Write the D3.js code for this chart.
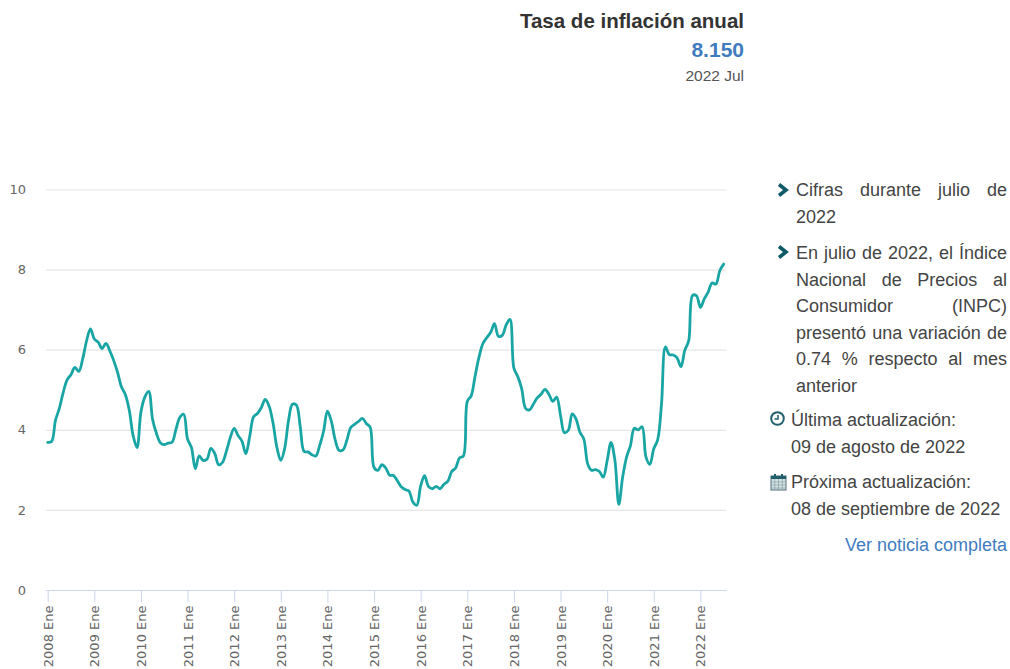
<!DOCTYPE html>
<html>
<head>
<meta charset="utf-8">
<script src="https://cdnjs.cloudflare.com/ajax/libs/d3/7.8.5/d3.min.js"></script>
<style>
  html, body { margin: 0; padding: 0; background: #fff; overflow: hidden; }
  #chart { position: absolute; left: 0; top: 0; width: 1010px; height: 669px; }
  .side { position: absolute; font-family: "Liberation Sans", Arial, sans-serif; font-size: 18px; color: #444; line-height: 26.5px; }
  .just { left: 796px; width: 211px; text-align: justify; }
  .head { right: 266px; text-align: right; font-family: "Liberation Sans", Arial, sans-serif; white-space: nowrap; position: absolute; }
  .axis text { font-family: "DejaVu Sans", sans-serif; font-size: 13px; fill: #666; }
</style>
</head>
<body>
<svg id="chart" width="1010" height="669"></svg>

<div class="head" style="top:9px;font-size:20.5px;font-weight:bold;color:#333;line-height:24px;">Tasa de inflación anual</div>
<div class="head" style="top:38px;font-size:21px;font-weight:bold;color:#3f7cbf;line-height:24px;">8.150</div>
<div class="head" style="top:67px;font-size:15.5px;color:#555;line-height:18px;">2022 Jul</div>

<div class="side just" style="top:177px;">Cifras durante julio de 2022</div>
<div class="side just" style="top:240px;">En julio de 2022, el Índice Nacional de Precios al Consumidor (INPC) presentó una variación de 0.74 % respecto al mes anterior</div>
<div class="side" style="left:791px;top:407px;">Última actualización:<br>09 de agosto de 2022</div>
<div class="side" style="left:791px;top:469px;">Próxima actualización:<br>08 de septiembre de 2022</div>
<div class="side" style="right:3px;top:532px;color:#3f7cbf;">Ver noticia completa</div>

<script>
var years = [2008,2009,2010,2011,2012,2013,2014,2015,2016,2017,2018,2019,2020,2021,2022]
var monthNames = ['Ene','Feb','Mar','Abr','May','Jun','Jul','Ago','Sep','Oct','Nov','Dic']
var yTicks = [0,2,4,6,8,10]

var inflation = [
  3.70,3.72,4.25,4.55,4.95,5.26,5.39,5.57,5.47,5.78,6.23,6.53,
  6.28,6.20,6.04,6.17,5.98,5.74,5.44,5.08,4.89,4.50,3.86,3.57,
  4.46,4.83,4.97,4.27,3.92,3.69,3.64,3.68,3.70,4.02,4.32,4.40,
  3.78,3.57,3.04,3.36,3.25,3.28,3.55,3.42,3.14,3.20,3.48,3.82,
  4.05,3.87,3.73,3.41,3.85,4.34,4.42,4.57,4.77,4.60,4.18,3.57,
  3.25,3.55,4.25,4.65,4.63,4.09,3.47,3.46,3.39,3.36,3.62,3.97,
  4.48,4.23,3.76,3.50,3.51,3.75,4.07,4.15,4.22,4.30,4.17,4.08,
  3.07,3.00,3.14,3.06,2.88,2.87,2.74,2.59,2.52,2.48,2.21,2.13,
  2.61,2.87,2.60,2.54,2.60,2.54,2.65,2.73,2.97,3.06,3.31,3.36,
  4.72,4.86,5.35,5.82,6.16,6.31,6.44,6.66,6.35,6.37,6.63,6.77,
  5.55,5.34,5.04,4.55,4.51,4.65,4.81,4.90,5.02,4.90,4.72,4.83,
  4.37,3.94,4.00,4.41,4.28,3.95,3.78,3.16,3.00,3.02,2.97,2.83,
  3.24,3.70,3.25,2.15,2.84,3.33,3.62,4.05,4.01,4.09,3.33,3.15,
  3.54,3.76,4.67,6.08,5.89,5.88,5.81,5.59,6.00,6.24,7.37,7.36,
  7.07,7.28,7.45,7.68,7.65,7.99,8.15
]

// one label per month, in the same order as the values
var months = inflation.map(function(d, i) {
  return years[Math.floor(i / 12)] + " " + monthNames[i % 12]
})
var tickLabels = years.map(function(y) { return y + " Ene" })

var svg = d3.select("#chart")

var xPositionScale = d3.scalePoint().domain(months).range([47.7, 723.7])
var yPositionScale = d3.scaleLinear().domain([0, 10]).range([590.5, 190])

// gridlines
svg.append("g")
  .selectAll("line")
  .data(yTicks.filter(function(d) { return d > 0 }))
  .enter().append("line")
  .attr("x1", 46)
  .attr("x2", 726.5)
  .attr("y1", function(d) { return yPositionScale(d) })
  .attr("y2", function(d) { return yPositionScale(d) })
  .attr("stroke", "#e6e6e6")
  .attr("stroke-width", 1.2)

// y labels
var yAxis = d3.axisLeft(yPositionScale).tickValues(yTicks).tickSize(0).tickPadding(20)
svg.append("g")
  .attr("class", "axis y-axis")
  .attr("transform", "translate(46,-0.5)")
  .call(yAxis)
  .call(function(g) { g.select(".domain").remove() })

// x axis
var xAxis = d3.axisBottom(xPositionScale).tickValues(tickLabels).tickSize(12).tickSizeOuter(0)
svg.append("g")
  .attr("class", "axis x-axis")
  .attr("transform", "translate(0,590.5)")
  .call(xAxis)
  .call(function(g) {
    g.select(".domain").attr("d", "M46,0H726.5").attr("stroke", "#ccd6eb")
    g.selectAll(".tick line").attr("stroke", "#ccd6eb")
    g.selectAll(".tick text")
      .attr("text-anchor", "end")
      .attr("dy", "0.35em")
      .attr("y", 0)
      .attr("x", 0)
      .attr("transform", "translate(0,15) rotate(-90)")
  })

// the line
var line = d3.line()
  .x(function(d, i) { return xPositionScale(months[i]) })
  .y(function(d) { return yPositionScale(d) })
  .curve(d3.curveCatmullRom)

svg.append("path")
  .datum(inflation)
  .attr("d", line)
  .attr("fill", "none")
  .attr("stroke", "#1aa5a5")
  .attr("stroke-width", 2.8)
  .attr("stroke-linejoin", "round")
  .attr("stroke-linecap", "round")

// chevrons next to the notes
svg.selectAll(".chevron")
  .data([190, 252])
  .enter().append("path")
  .attr("class", "chevron")
  .attr("d", function(d) { return "M779," + (d - 5.5) + "L786," + d + "L779," + (d + 5.5) })
  .attr("fill", "none")
  .attr("stroke", "#0f5a66")
  .attr("stroke-width", 3.6)

// clock icon
var clock = svg.append("g").attr("transform", "translate(777.5,418.5)")
clock.append("circle").attr("r", 6.3).attr("fill", "none").attr("stroke", "#1f5f6b").attr("stroke-width", 2)
clock.append("path").attr("d", "M0.5,-3.5V0.5H-3").attr("fill", "none").attr("stroke", "#1f5f6b").attr("stroke-width", 1.5)

// calendar icon
var cal = svg.append("g").attr("transform", "translate(771,474)")
cal.append("rect").attr("y", 2).attr("width", 15).attr("height", 14).attr("fill", "#d5e2e4").attr("stroke", "#4f6f78").attr("stroke-width", 1)
cal.append("rect").attr("y", 2).attr("width", 15).attr("height", 3).attr("fill", "#1f5f6b")
cal.selectAll(".peg").data([3, 10]).enter().append("rect")
  .attr("class", "peg").attr("x", function(d) { return d }).attr("y", 0).attr("width", 2).attr("height", 4).attr("fill", "#1f5f6b")
cal.selectAll(".gridv").data([3.75, 7.5, 11.25]).enter().append("line")
  .attr("class", "gridv").attr("x1", function(d) { return d }).attr("x2", function(d) { return d })
  .attr("y1", 5).attr("y2", 16).attr("stroke", "#8aa0a6").attr("stroke-width", 0.7)
cal.selectAll(".gridh").data([8, 11, 14]).enter().append("line")
  .attr("class", "gridh").attr("x1", 0).attr("x2", 15)
  .attr("y1", function(d) { return d }).attr("y2", function(d) { return d }).attr("stroke", "#8aa0a6").attr("stroke-width", 0.7)
</script>
</body>
</html>
